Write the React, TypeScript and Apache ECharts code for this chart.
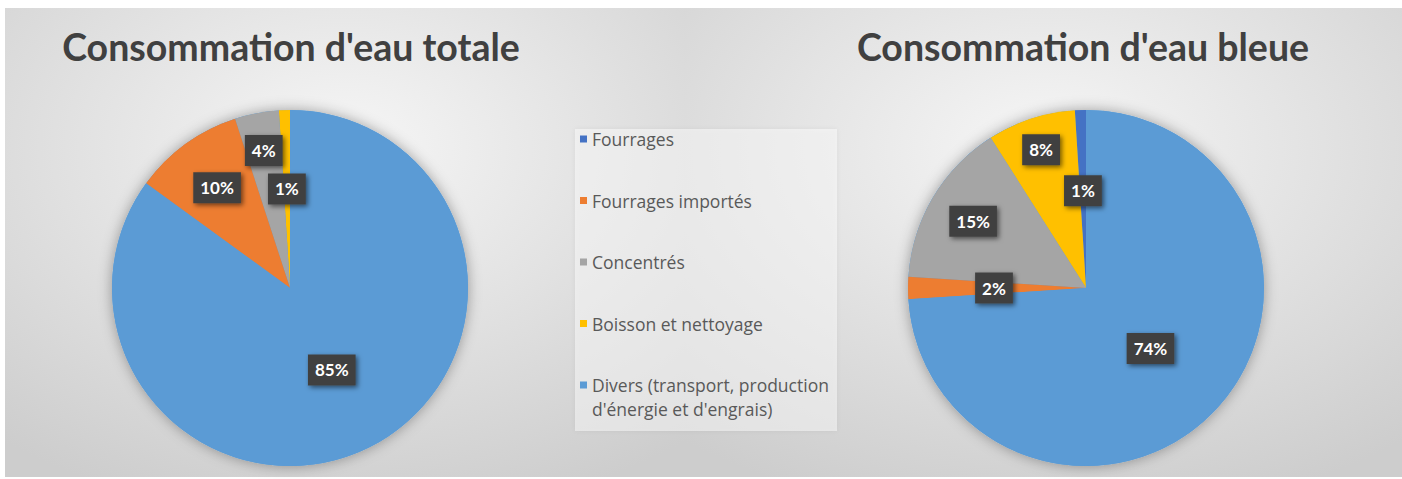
import React, { useEffect, useRef } from "react";
import * as echarts from "echarts";

// ---- data ----
const legendNames = [
  "Fourrages",
  "Fourrages importés",
  "Concentrés",
  "Boisson et nettoyage",
  "Divers (transport, production d'énergie et d'engrais)",
];
// slice order, counter-clockwise from 12 o'clock
const sliceNames = [legendNames[0], legendNames[3], legendNames[2], legendNames[1], legendNames[4]];
const totalValues = [0, 1, 4, 10, 85];
const blueValues = [1, 8, 15, 2, 74];
const titles = ["Consommation d'eau totale", "Consommation d'eau bleue"];

// ---- styles ----
const colorByName: Record<string, string> = {
  [legendNames[0]]: "#4472C4",
  [legendNames[1]]: "#ED7D31",
  [legendNames[2]]: "#A5A5A5",
  [legendNames[3]]: "#FFC000",
  [legendNames[4]]: "#5B9BD5",
};
// where each label sits, as a fraction of the radius (matches the picture's best-fit placement)
const totalLabelFrac = [0.5, 0.54, 0.77, 0.68, 0.5];
const blueLabelFrac = [0.53, 0.8, 0.72, 0.5, 0.48];

const R = 178;
const FONT = "Lato, 'Open Sans', sans-serif";
const LEGEND_FONT = "'Open Sans', Lato, sans-serif";

const labelStyle = {
  position: "inside" as const,
  fontFamily: FONT,
  fontWeight: "bold" as const,
  fontSize: 17,
  color: "#ffffff",
  backgroundColor: "#404040",
  padding: [8, 7, 6, 7],
  shadowBlur: 5,
  shadowColor: "rgba(0,0,0,0.55)",
  shadowOffsetX: 2,
  shadowOffsetY: 2,
  formatter: (p: any) => p.value + "%",
};

function chartSeries(values: number[], center: number[], fracs: number[]) {
  const list: any[] = [];
  list.push({
    type: "pie",
    center,
    radius: R,
    silent: true,
    z: 1,
    label: { show: false },
    labelLine: { show: false },
    data: [{ value: 1, name: "", itemStyle: { color: "#5B9BD5", shadowBlur: 14, shadowColor: "rgba(0,0,0,0.35)" } }],
  });
  list.push({
    type: "pie",
    center,
    radius: R,
    startAngle: 90,
    clockwise: false,
    silent: true,
    z: 2,
    label: { show: false },
    labelLine: { show: false },
    data: values.map((v, i) => ({
      name: sliceNames[i],
      value: v,
      itemStyle: { color: colorByName[sliceNames[i]] },
    })),
  });
  values.forEach((v, i) => {
    if (v <= 0) return;
    list.push({
      type: "pie",
      center,
      radius: 2 * fracs[i] * R,
      startAngle: 90,
      clockwise: false,
      silent: true,
      avoidLabelOverlap: false,
      z: 5,
      itemStyle: { color: "rgba(0,0,0,0)" },
      labelLine: { show: false },
      data: values.map((vv, j) => ({
        value: vv,
        label: j === i ? { show: true, ...labelStyle } : { show: false },
      })),
    });
  });
  return list;
}

export default function App() {
  const ref = useRef<HTMLDivElement>(null);
  useEffect(() => {
    if (!ref.current) return;
    const chart = echarts.init(ref.current, null, { renderer: "svg" });
    const bg = (x: number, w: number) => ({
      type: "rect",
      z: -2,
      silent: true,
      shape: { x, y: 8, width: w, height: 469 },
      style: {
        fill: new echarts.graphic.RadialGradient(0.5, 0.3, 0.8, [
          { offset: 0, color: "#f6f6f6" },
          { offset: 1, color: "#cdcdcd" },
        ]),
      },
    });
    const legendText = {
      fontFamily: LEGEND_FONT,
      fontSize: 17.5,
      color: "#595959",
      lineHeight: 24,
    };
    const titleStyle = { fontFamily: FONT, fontWeight: "bold", fontSize: 37.5, color: "#404040" };
    chart.setOption({
      animation: false,
      backgroundColor: "#ffffff",
      title: [
        { text: titles[0], left: 291, top: 27, padding: 0, textAlign: "center", textStyle: titleStyle },
        { text: titles[1], left: 1083, top: 27, padding: 0, textAlign: "center", textStyle: titleStyle },
      ],
      graphic: [
        bg(5, 680),
        bg(685, 717),
        {
          type: "rect",
          z: -1,
          silent: true,
          shape: { x: 575, y: 129, width: 262, height: 302 },
          style: { fill: "rgba(255,255,255,0.45)", shadowBlur: 4, shadowColor: "rgba(0,0,0,0.12)" },
        },
      ],
      legend: [
        {
          orient: "vertical",
          left: 580,
          top: 127,
          padding: 0,
          itemGap: 37.5,
          itemWidth: 7,
          itemHeight: 7,
          icon: "rect",
          itemStyle: { borderWidth: 0 },
          selectedMode: false,
          data: legendNames.slice(0, 4),
          textStyle: legendText,
        },
        {
          orient: "vertical",
          left: 580,
          top: 349,
          padding: 0,
          itemWidth: 7,
          itemHeight: 7,
          icon: "rect",
          selectedMode: false,
          data: legendNames.slice(4),
          formatter: (n: string) => {
            const k = n.indexOf(" d'énergie");
            return "{p| }\n{a|" + n.slice(0, k) + "}\n{a|" + n.slice(k + 1) + "}";
          },
          textStyle: {
            ...legendText,
            rich: {
              p: { ...legendText },
              a: { ...legendText },
            },
          },
        },
      ],
      series: [
        ...chartSeries(totalValues, [290, 288], totalLabelFrac),
        ...chartSeries(blueValues, [1086, 288], blueLabelFrac),
      ],
    });
    return () => chart.dispose();
  }, []);
  return (
    <div
      ref={ref}
      style={{ position: "absolute", left: 0, top: 0, width: 1402, height: 479 }}
    />
  );
}
